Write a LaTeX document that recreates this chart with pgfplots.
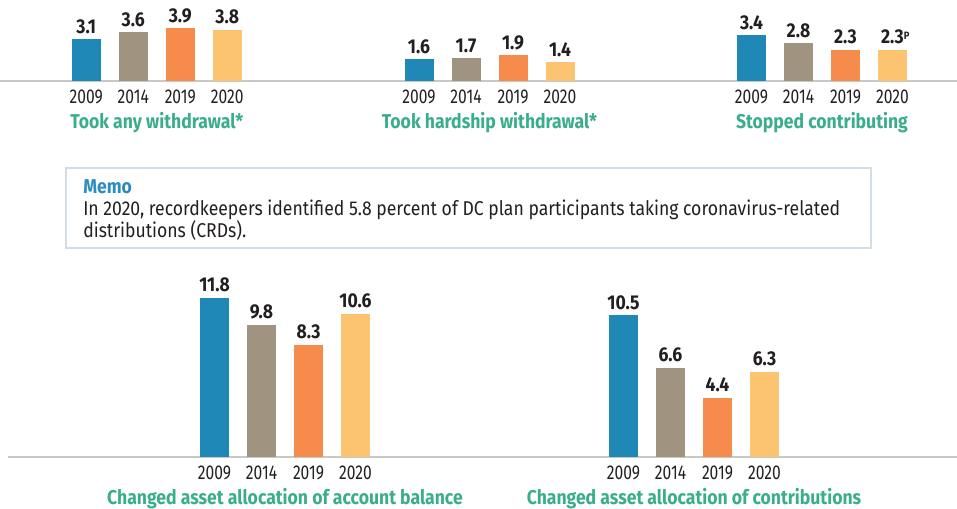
\documentclass[border=0pt]{standalone}
\usepackage{fontspec}
\setmainfont[FakeStretch=0.88]{Fira Sans}
\newfontfamily\yearfont[FakeStretch=0.78]{Fira Sans}
\usepackage{pgfplots}
\pgfplotsset{compat=1.18}
\definecolor{cA}{HTML}{1F88B6}
\definecolor{cB}{HTML}{A09481}
\definecolor{cC}{HTML}{F68C4B}
\definecolor{cD}{HTML}{FCC371}
\definecolor{ttl}{HTML}{3AAE8A}
\definecolor{memo}{HTML}{2B8CBE}
\definecolor{txt}{HTML}{231F20}
\definecolor{rule}{HTML}{C8C8C8}
\definecolor{boxc}{HTML}{D3DDE6}
\pgfplotsset{
 grp/.style={
  scale only axis, width=141pt,
  xmin=-0.5, xmax=3.5, ymin=0,
  ybar, bar width=21.75pt, bar shift=0pt,
  axis line style={draw=none}, ytick=\empty,
  xtick={0,1,2,3}, xticklabels={2009,2014,2019,2020},
  major tick length=0pt,
  xticklabel style={font=\yearfont\fontsize{15}{17}\selectfont, text=txt, anchor=base, yshift=-16.5pt},
  xlabel style={font=\bfseries\fontsize{15}{17}\selectfont, text=ttl, at={(axis description cs:0.5,0)}, anchor=base, yshift=-35.25pt},
  nodes near coords,
  nodes near coords style={font=\bfseries\fontsize{15}{17}\selectfont, text=txt, anchor=base, yshift=4.5pt},
  point meta=explicit symbolic,
  clip=false,
  anchor=south west,
 },
 top/.style={grp, height=50.625pt, ymax=5},
 bot/.style={grp, height=131.625pt, ymax=13},
}
\begin{document}
\begin{tikzpicture}
\useasboundingbox (0,0) rectangle (717.75pt,-381pt);
\draw[rule, line width=1.1pt] (0,-60.75pt) -- (717.75pt,-60.75pt);
\draw[rule, line width=1.1pt] (6pt,-342.75pt) -- (717.75pt,-342.75pt);
% top row
\begin{axis}[top, at={(47.06pt,-60.75pt)}, xlabel={Took any withdrawal*}]
\addplot[fill=cA, draw=none] coordinates {(0,3.1)[3.1]};
\addplot[fill=cB, draw=none] coordinates {(1,3.6)[3.6]};
\addplot[fill=cC, draw=none] coordinates {(2,3.9)[3.9]};
\addplot[fill=cD, draw=none] coordinates {(3,3.8)[3.8]};
\end{axis}
\begin{axis}[top, at={(296.625pt,-60.75pt)}, xlabel={Took hardship withdrawal*}]
\addplot[fill=cA, draw=none] coordinates {(0,1.6)[1.6]};
\addplot[fill=cB, draw=none] coordinates {(1,1.7)[1.7]};
\addplot[fill=cC, draw=none] coordinates {(2,1.9)[1.9]};
\addplot[fill=cD, draw=none] coordinates {(3,1.4)[1.4]};
\end{axis}
\begin{axis}[top, at={(546pt,-60.75pt)}, xlabel={Stopped contributing}]
\addplot[fill=cA, draw=none] coordinates {(0,3.4)[3.4]};
\addplot[fill=cB, draw=none] coordinates {(1,2.8)[2.8]};
\addplot[fill=cC, draw=none] coordinates {(2,2.3)[2.3]};
\addplot[fill=cD, draw=none] coordinates {(3,2.3)[{2.3\rlap{\raisebox{0.45ex}{\fontsize{8}{9}\selectfont P}}}]};
\end{axis}
% bottom row
\begin{axis}[bot, at={(143.25pt,-342.75pt)}, xlabel={Changed asset allocation of account balance}]
\addplot[fill=cA, draw=none] coordinates {(0,11.8)[11.8]};
\addplot[fill=cB, draw=none] coordinates {(1,9.8)[9.8]};
\addplot[fill=cC, draw=none] coordinates {(2,8.3)[8.3]};
\addplot[fill=cD, draw=none] coordinates {(3,10.6)[10.6]};
\end{axis}
\begin{axis}[bot, at={(450pt,-342.75pt)}, xlabel={Changed asset allocation of contributions}]
\addplot[fill=cA, draw=none] coordinates {(0,10.5)[10.5]};
\addplot[fill=cB, draw=none] coordinates {(1,6.6)[6.6]};
\addplot[fill=cC, draw=none] coordinates {(2,4.4)[4.4]};
\addplot[fill=cD, draw=none] coordinates {(3,6.3)[6.3]};
\end{axis}
% memo box
\draw[boxc, line width=0.9pt] (49.5pt,-126pt) rectangle (653.25pt,-186pt);
\node[anchor=base west, inner sep=0pt, text=memo, font=\bfseries\fontsize{15}{17}\selectfont] at (62.25pt,-144.75pt) {Memo};
\node[anchor=base west, inner sep=0pt, text=txt, font=\fontsize{15}{17}\selectfont] at (62.25pt,-161.25pt) {In 2020, recordkeepers identified 5.8 percent of DC plan participants taking coronavirus-related};
\node[anchor=base west, inner sep=0pt, text=txt, font=\fontsize{15}{17}\selectfont] at (62.25pt,-177.75pt) {distributions (CRDs).};
\end{tikzpicture}
\end{document}
